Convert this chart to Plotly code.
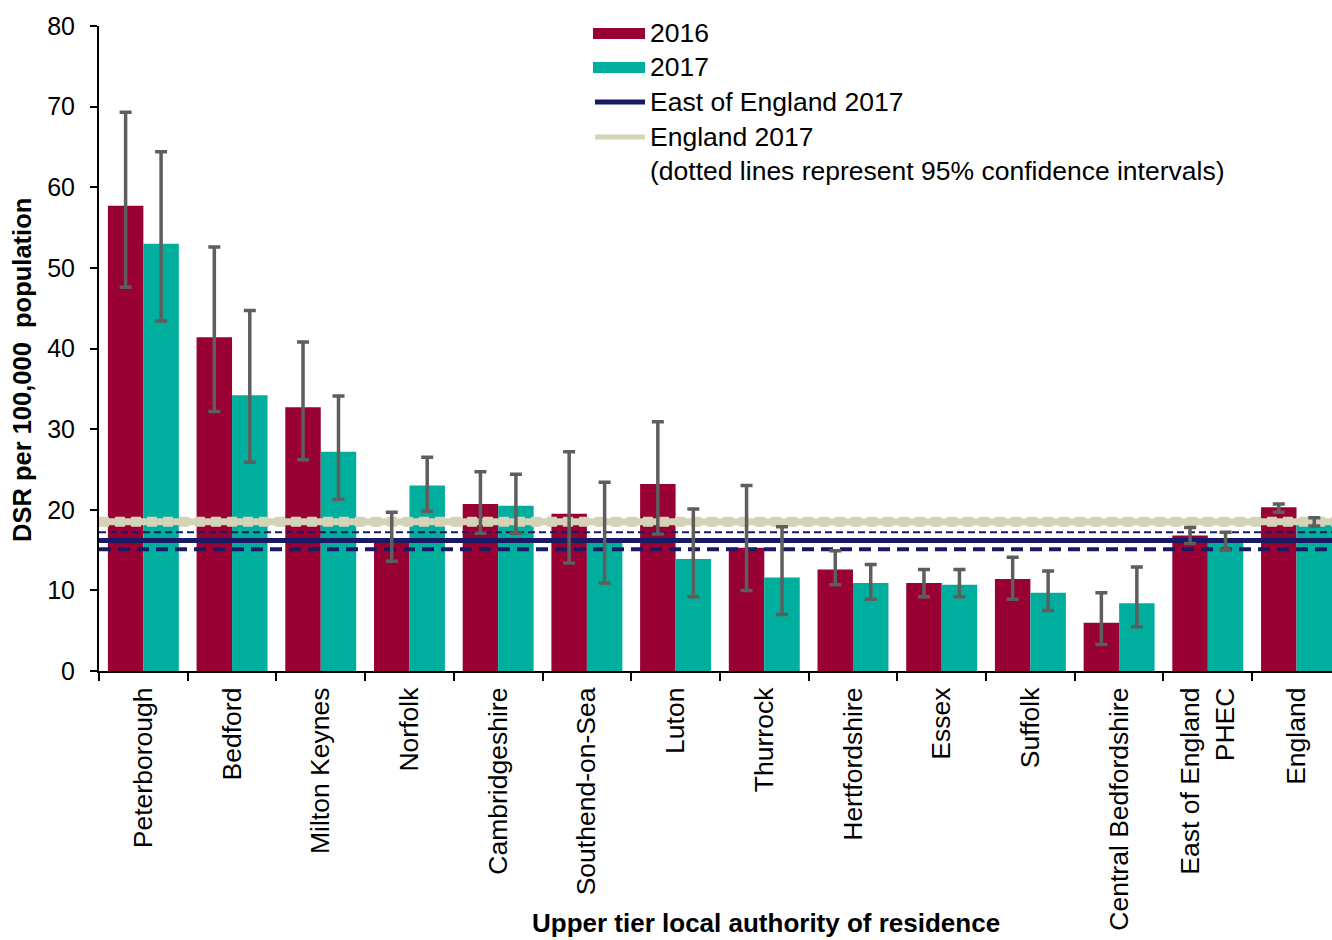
import numpy as np
import plotly.graph_objects as go

# Upper tier local authorities (plus regional and national comparators)
categories = [
    "Peterborough", "Bedford", "Milton Keynes", "Norfolk", "Cambridgeshire",
    "Southend-on-Sea", "Luton", "Thurrock", "Hertfordshire", "Essex", "Suffolk",
    "Central Bedfordshire", "East of England<br>PHEC", "England",
]

# Directly standardised rates per 100,000 with 95% confidence limits
dsr_2016 = [57.7, 41.4, 32.7, 16.0, 20.7, 19.5, 23.2, 15.3, 12.6, 10.9, 11.4, 6.0, 16.8, 20.3]
low_2016 = [47.6, 32.2, 26.2, 13.6, 17.1, 13.4, 17.0, 10.0, 10.7, 9.2, 8.9, 3.3, 15.8, 19.7]
high_2016 = [69.3, 52.6, 40.8, 19.7, 24.7, 27.2, 30.9, 23.0, 14.9, 12.6, 14.1, 9.7, 17.8, 20.7]

dsr_2017 = [53.0, 34.2, 27.2, 23.0, 20.5, 16.0, 13.9, 11.6, 10.9, 10.7, 9.7, 8.4, 16.2, 18.5]
low_2017 = [43.4, 25.9, 21.3, 19.8, 17.1, 10.9, 9.2, 7.0, 8.9, 9.2, 7.5, 5.5, 15.1, 18.0]
high_2017 = [64.4, 44.7, 34.1, 26.5, 24.4, 23.4, 20.1, 17.9, 13.2, 12.6, 12.4, 12.9, 17.2, 19.0]

# Benchmark rates for 2017
eoe_2017 = 16.2
eoe_2017_low = 15.1
eoe_2017_high = 17.2
england_2017 = 18.5

y_ticks = [0, 10, 20, 30, 40, 50, 60, 70, 80]

RED = "#990033"
TEAL = "#00AE9D"
NAVY = "#1A1A64"
BEIGE = "#D4D2B7"
GREY = "#5E5E5E"
FONT = "Liberation Sans, Arial, sans-serif"

W, H = 1332, 940
L, R, T, B = 99, 0, 26, 269
PW, PH = W - L - R, H - T - B

idx = np.arange(len(categories))
half = 0.2  # half of each bar slot with bargap 0.2 and two series
x_span = [-0.5, len(categories) - 0.5]

fig = go.Figure()

fig.add_trace(go.Bar(x=idx, y=dsr_2016, name="2016", marker=dict(color=RED, line=dict(width=0))))
fig.add_trace(go.Bar(x=idx, y=dsr_2017, name="2017", marker=dict(color=TEAL, line=dict(width=0))))

# Benchmark lines across the plot
fig.add_trace(go.Scatter(x=x_span, y=[england_2017] * 2, mode="lines",
                         line=dict(color=BEIGE, width=7), hoverinfo="skip"))
fig.add_trace(go.Scatter(x=x_span, y=[england_2017] * 2, mode="lines",
                         line=dict(color=BEIGE, width=10, dash="10px,6px"), hoverinfo="skip"))
fig.add_trace(go.Scatter(x=x_span, y=[eoe_2017_high] * 2, mode="lines",
                         line=dict(color=NAVY, width=2, dash="7px,4px"), hoverinfo="skip"))
fig.add_trace(go.Scatter(x=x_span, y=[eoe_2017] * 2, mode="lines",
                         line=dict(color=NAVY, width=5), hoverinfo="skip"))
fig.add_trace(go.Scatter(x=x_span, y=[eoe_2017_low] * 2, mode="lines",
                         line=dict(color=NAVY, width=4, dash="12px,7px"), hoverinfo="skip"))

# Confidence interval whiskers, drawn above the benchmark lines
for offs, vals, lo, hi in ((-half, dsr_2016, low_2016, high_2016),
                           (half, dsr_2017, low_2017, high_2017)):
    v = np.array(vals)
    fig.add_trace(go.Scatter(
        x=idx + offs, y=v, mode="markers",
        marker=dict(size=1, color="rgba(0,0,0,0)"),
        error_y=dict(type="data", symmetric=False,
                     array=np.array(hi) - v, arrayminus=v - np.array(lo),
                     color=GREY, thickness=3.5, width=6),
        hoverinfo="skip",
    ))


def px_x(x):
    return (x - L) / PW


def px_y(y):
    return (H - B - y) / PH


shapes = []
annotations = []

# Key
key_rows = [33, 67, 102, 137]
key_labels = ["2016", "2017", "East of England 2017", "England 2017"]
shapes.append(dict(type="rect", xref="paper", yref="paper", x0=px_x(593), x1=px_x(645),
                   y0=px_y(39), y1=px_y(28), fillcolor=RED, line=dict(width=0)))
shapes.append(dict(type="rect", xref="paper", yref="paper", x0=px_x(593), x1=px_x(645),
                   y0=px_y(73), y1=px_y(62), fillcolor=TEAL, line=dict(width=0)))
shapes.append(dict(type="line", xref="paper", yref="paper", x0=px_x(595), x1=px_x(645),
                   y0=px_y(102), y1=px_y(102), line=dict(color=NAVY, width=5)))
shapes.append(dict(type="line", xref="paper", yref="paper", x0=px_x(595), x1=px_x(645),
                   y0=px_y(137), y1=px_y(137), line=dict(color=BEIGE, width=5)))
for yy, txt in zip(key_rows, key_labels):
    annotations.append(dict(xref="paper", yref="paper", x=px_x(648), y=px_y(yy),
                            xanchor="left", yanchor="middle", text=txt, showarrow=False,
                            font=dict(family=FONT, size=26.5, color="black")))
annotations.append(dict(xref="paper", yref="paper", x=px_x(648), y=px_y(171),
                        xanchor="left", yanchor="middle",
                        text="(dotted lines represent 95% confidence intervals)",
                        showarrow=False, font=dict(family=FONT, size=26.5, color="black")))

# Axis titles
annotations.append(dict(xref="paper", yref="paper", x=px_x(22), y=px_y(370),
                        xanchor="center", yanchor="middle", textangle=-90,
                        text="<b>DSR per 100,000  population</b>", showarrow=False,
                        font=dict(family=FONT, size=25.5, color="black")))
annotations.append(dict(xref="paper", yref="paper", x=px_x(766), y=px_y(923),
                        xanchor="center", yanchor="middle",
                        text="<b>Upper tier local authority of residence</b>", showarrow=False,
                        font=dict(family=FONT, size=26, color="black")))

fig.update_layout(
    width=W, height=H,
    margin=dict(l=L, r=R, t=T, b=B, pad=0),
    paper_bgcolor="white", plot_bgcolor="white",
    barmode="group", bargap=0.2, bargroupgap=0,
    showlegend=False,
    font=dict(family=FONT, color="black"),
    shapes=shapes, annotations=annotations,
    xaxis=dict(
        range=[-0.5, 13.4], tickmode="array", tickvals=idx, ticktext=categories,
        tickangle=-90, ticks="", ticklen=0, showgrid=False, zeroline=False,
        showline=True, linecolor="black", linewidth=2,
        ticklabelstandoff=4,
        tickfont=dict(family=FONT, size=26.5, color="black"),
        minor=dict(tickmode="linear", tick0=-0.5, dtick=1, ticks="outside",
                   ticklen=8, tickwidth=2, tickcolor="black", showgrid=False),
        fixedrange=True,
    ),
    yaxis=dict(
        range=[0, 80], tickmode="array", tickvals=y_ticks,
        ticks="outside", ticklen=7, tickwidth=2, tickcolor="black",
        showgrid=False, zeroline=False, showline=True, linecolor="black", linewidth=2,
        ticklabelstandoff=10,
        tickfont=dict(family=FONT, size=25, color="black"),
        fixedrange=True,
    ),
)

fig.write_html("out.html")
